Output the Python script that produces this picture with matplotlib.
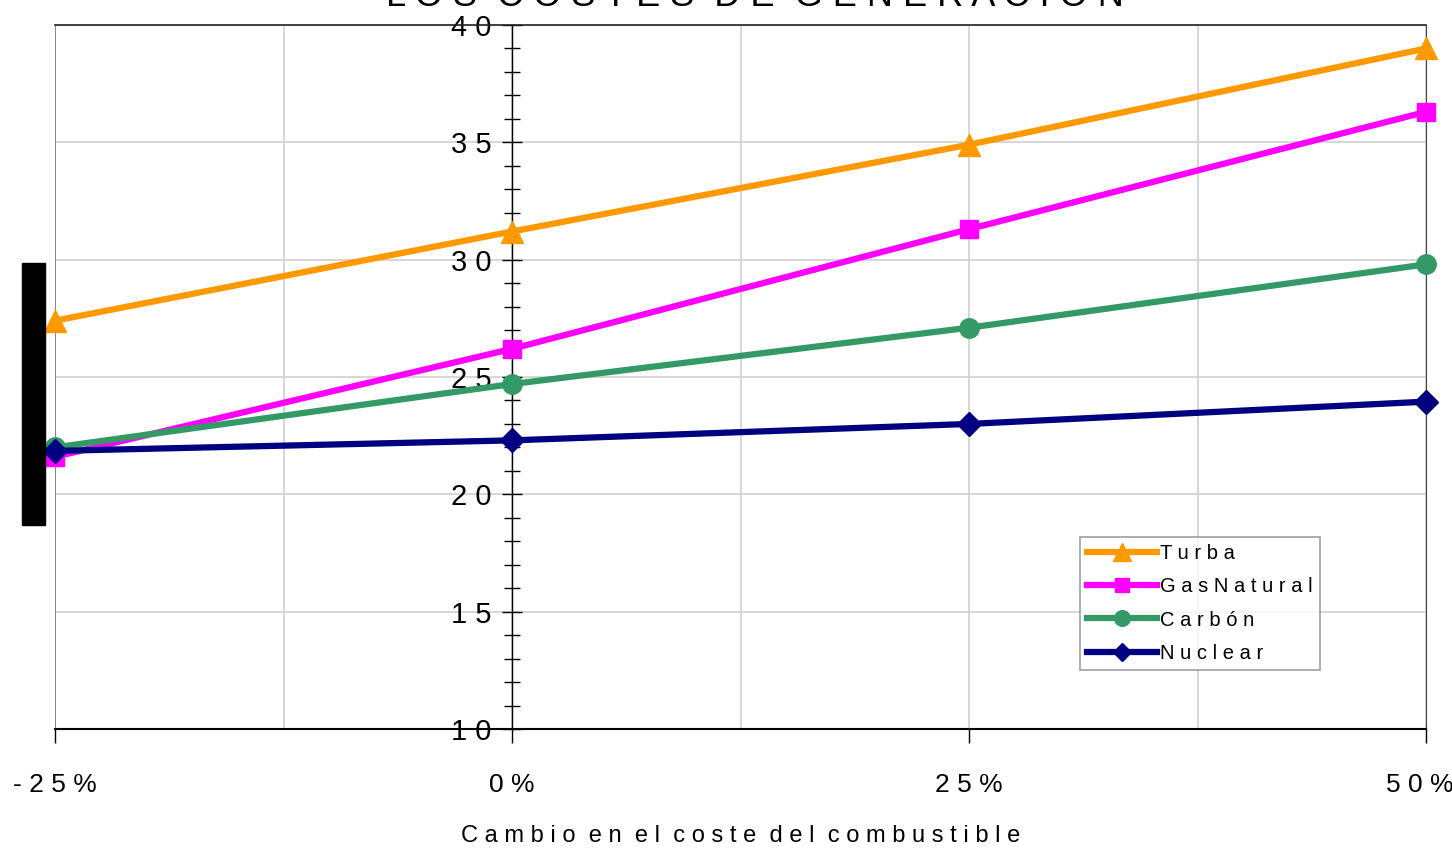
import matplotlib.pyplot as plt
from matplotlib.patches import Rectangle
from matplotlib.ticker import MultipleLocator

# cambio en el coste del combustible (%)
cambio = [-25, 0, 25, 50]
xtick_labels = ["-25%", "0%", "25%", "50%"]
ytick_vals = [10, 15, 20, 25, 30, 35, 40]

turba = [27.4, 31.2, 34.9, 39.0]
gas_natural = [21.6, 26.2, 31.3, 36.3]
carbon = [22.0, 24.7, 27.1, 29.8]
nuclear = [21.85, 22.3, 23.0, 23.95]

series = [
    ("Turba", turba, "#FF9900", "^", 16),
    ("GasNatural", gas_natural, "#FF00FF", "s", 13),
    ("Carbón", carbon, "#339966", "o", 14),
    ("Nuclear", nuclear, "#000080", "D", 12),
]


def spaced(s, gap=" "):
    # the original text is drawn with wide letter spacing
    return "  ".join(gap.join(w) for w in s.split(" "))


plt.rcParams['font.family'] = ['Liberation Sans', 'DejaVu Sans']

fig = plt.figure(figsize=(14.52, 8.48), dpi=100)
W, H = 1452, 848
ax = fig.add_axes([55 / W, (H - 729) / H, (1426 - 55) / W, (729 - 25) / H])

for name, vals, col, mk, ms in series:
    ax.plot(cambio, vals, color=col, lw=4.5, marker=mk, ms=ms,
            label=spaced(name), clip_on=False, zorder=3)

ax.set_xlim(-25, 50)
ax.set_ylim(10, 40)

# y axis sits on 0 %
ax.spines['left'].set_position(('data', 0))
ax.spines['left'].set_color('black')
ax.spines['left'].set_linewidth(1.0)
ax.spines['bottom'].set_linewidth(1.5)
ax.spines['top'].set_linewidth(1.2)
ax.spines['top'].set_color('#222222')
ax.spines['right'].set_color('#444444')

# gray line at the -25 % edge
ax.axvline(-25, color='#777777', lw=1.2, zorder=1)

ax.yaxis.set_minor_locator(MultipleLocator(1))
ax.xaxis.set_minor_locator(MultipleLocator(12.5))

# last x label sits against the right edge, so it is placed by hand
ax.set_xticks(cambio)
ax.set_xticklabels([spaced(t) for t in xtick_labels[:-1]] + [""], fontsize=19)
ax.annotate(spaced(xtick_labels[-1]), xy=(cambio[-1], 0), xycoords=('data', 'axes fraction'),
            xytext=(-6, -44), textcoords='offset pixels', ha='center', va='top', fontsize=19)
ax.set_yticks(ytick_vals)
ax.set_yticklabels([spaced(str(v)) for v in ytick_vals], fontsize=21)

ax.tick_params(axis='y', which='both', direction='inout', length=14, width=1, pad=8)
ax.tick_params(axis='y', which='minor', length=12)
ax.tick_params(axis='x', which='major', direction='out', length=10, width=1, pad=22)
ax.tick_params(axis='x', which='minor', length=0)

ax.grid(True, which='major', axis='y', color='#d0d0d0', lw=1.2)
ax.grid(True, which='both', axis='x', color='#d0d0d0', lw=1.2)
ax.set_axisbelow(True)

ax.set_xlabel(spaced("Cambio en el coste del combustible"), fontsize=17, labelpad=20)

leg = ax.legend(loc='lower right', bbox_to_anchor=(0.93, 0.07), fontsize=14.5,
                frameon=True, fancybox=False, edgecolor='#888888',
                handlelength=3.5, handletextpad=0.15, labelspacing=0.7,
                borderpad=0.35, markerscale=0.8)
leg.get_frame().set_linewidth(1.2)

fig.text(0.52, 0.983, spaced("LOS COSTES DE GENERACIÓN"), ha='center', va='bottom',
         fontsize=26)

fig.patches.append(Rectangle((22 / W, (H - 525) / H), 23 / W, 262 / H,
                             transform=fig.transFigure, color='black', zorder=5))

fig.savefig("out.png", dpi=100)
